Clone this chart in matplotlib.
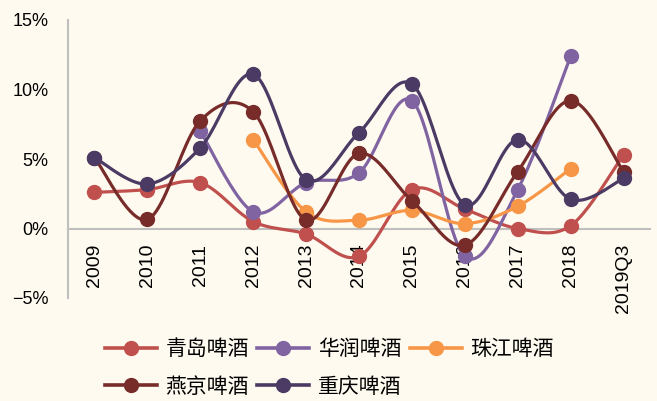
import numpy as np
import matplotlib
matplotlib.use("Agg")
import matplotlib.pyplot as plt
from matplotlib.lines import Line2D
from matplotlib.ticker import FuncFormatter

plt.rcParams['font.family'] = ['Liberation Sans', 'Noto Sans CJK SC', 'DejaVu Sans']

years = ['2009', '2010', '2011', '2012', '2013', '2014', '2015', '2016', '2017', '2018', '2019Q3']
nan = np.nan

tsingtao = [2.6, 2.8, 3.3, 0.5, -0.4, -2.0, 2.8, 1.4, 0.0, 0.2, 5.3]
cr_snow = [nan, nan, 7.0, 1.2, 3.3, 4.0, 9.2, -2.0, 2.8, 12.4, nan]
pearl_river = [nan, nan, nan, 6.4, 1.2, 0.6, 1.3, 0.35, 1.6, 4.3, nan]
yanjing = [5.1, 0.65, 7.75, 8.4, 0.6, 5.4, 2.0, -1.2, 4.1, 9.2, 4.1]
chongqing = [5.1, 3.2, 5.8, 11.1, 3.5, 6.9, 10.4, 1.7, 6.4, 2.1, 3.6]

names = ['青岛啤酒', '华润啤酒', '珠江啤酒', '燕京啤酒', '重庆啤酒']
series = [tsingtao, cr_snow, pearl_river, yanjing, chongqing]
colors = ['#C0504D', '#8064A2', '#F79646', '#772C2A', '#4B3A63']

BG = '#FEFAF0'


def smooth_curve(xs, ys, steps=24):
    """Catmull-Rom style cubic Bezier through the points."""
    pts = np.column_stack([xs, ys]).astype(float)
    n = len(pts)
    if n < 2:
        return pts[:, 0], pts[:, 1]
    out = []
    t = np.linspace(0, 1, steps)[:, None]
    for i in range(n - 1):
        p0 = pts[i - 1] if i > 0 else pts[i]
        p1, p2 = pts[i], pts[i + 1]
        p3 = pts[i + 2] if i + 2 < n else pts[i + 1]
        c1 = p1 + (p2 - p0) / 6.0
        c2 = p2 - (p3 - p1) / 6.0
        seg = ((1 - t) ** 3) * p1 + 3 * ((1 - t) ** 2) * t * c1 + 3 * (1 - t) * t ** 2 * c2 + t ** 3 * p2
        out.append(seg if i == 0 else seg[1:])
    out = np.vstack(out)
    return out[:, 0], out[:, 1]


fig = plt.figure(figsize=(6.57, 4.01), dpi=100, facecolor=BG)
ax = fig.add_axes([68 / 657, 1 - 298 / 401, (650 - 68) / 657, (298 - 20) / 401])
ax.set_facecolor(BG)

# axis frame first (moving a spine rebuilds the ticks)
for s in ['top', 'right']:
    ax.spines[s].set_visible(False)
ax.spines['bottom'].set_position(('data', 0))
ax.spines['bottom'].set_color('#BFBFBF')
ax.spines['bottom'].set_linewidth(1.5)
ax.spines['left'].set_color('#BFBFBF')
ax.spines['left'].set_linewidth(1.5)

x = np.arange(len(years))
for k, (vals, col) in enumerate(zip(series, colors)):
    v = np.array(vals, dtype=float)
    m = ~np.isnan(v)
    sx, sy = smooth_curve(x[m], v[m])
    ax.plot(sx, sy, color=col, lw=2.3, zorder=3 + k, solid_capstyle='round')
    ax.plot(x[m], v[m], ls='none', marker='o', ms=10, color=col, zorder=3 + k)

ax.set_xlim(-0.5, len(years) - 0.5)
ax.set_ylim(-5, 15)
ax.set_yticks([-5, 0, 5, 10, 15])
ax.yaxis.set_major_formatter(FuncFormatter(lambda v, p: f"{v:.0f}%".replace('-', '\u2212')))
ax.set_xticks(x)
ax.set_xticklabels(years)
ax.tick_params(axis='both', length=0, colors='black')
ax.tick_params(axis='x', pad=11, labelrotation=90, labelsize=14)
ax.tick_params(axis='y', pad=14, labelsize=13)
for lab in ax.get_xticklabels():
    lab.set_va('top')
    lab.set_ha('center')

handles = [Line2D([], [], color=c, lw=2.6, marker='o', ms=10) for c in colors]
order = [0, 3, 1, 4, 2]
fig.legend([handles[i] for i in order], [names[i] for i in order],
           ncol=3, loc='upper left', bbox_to_anchor=(105 / 657, 1 - 338 / 401),
           frameon=False, borderpad=0, borderaxespad=0, handlelength=2.5,
           handletextpad=0.4, columnspacing=0.4, labelspacing=0.75,
           prop={'family': ['Noto Sans CJK SC'], 'size': 15})

fig.savefig('out.png', dpi=100, facecolor=BG)
